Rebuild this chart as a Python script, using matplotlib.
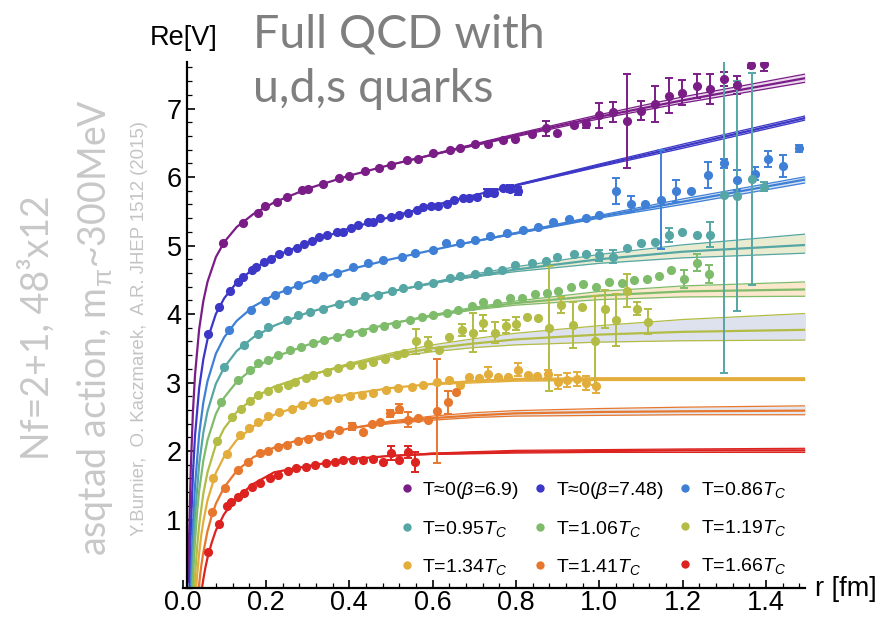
"""
Re[V](r) from lattice QCD (Nf=2+1) - static potential at several temperatures
with fitted curves and uncertainty bands.
"""
import numpy as np
import matplotlib
matplotlib.use('Agg')
import matplotlib.pyplot as plt
from matplotlib.lines import Line2D
from matplotlib.ticker import MultipleLocator, FixedLocator

plt.rcParams['font.family'] = ['Liberation Sans', 'DejaVu Sans']
plt.rcParams['mathtext.fontset'] = 'custom'
plt.rcParams['mathtext.rm'] = 'Liberation Sans'
plt.rcParams['mathtext.it'] = 'Liberation Sans:italic'

# ── Lattice data: r [fm], Re[V], error ───────────────────────────────────────
r_p = [0.098, 0.146, 0.182, 0.198, 0.226, 0.250, 0.286, 0.302, 0.336, 0.376,
       0.400, 0.438, 0.472, 0.500, 0.538, 0.566, 0.602, 0.642, 0.666, 0.702,
       0.734, 0.770, 0.798, 0.838, 0.872, 0.899, 0.940, 0.968, 1.000, 1.034,
       1.066, 1.100, 1.134, 1.168, 1.198, 1.234, 1.266, 1.299, 1.331, 1.364, 1.396]
v_p = [5.03, 5.33, 5.48, 5.58, 5.64, 5.71, 5.81, 5.83, 5.90, 5.98,
       6.02, 6.09, 6.13, 6.18, 6.25, 6.27, 6.35, 6.39, 6.42, 6.48,
       6.48, 6.54, 6.55, 6.63, 6.71, 6.65, 6.76, 6.77, 6.90, 6.95,
       6.82, 6.97, 7.07, 7.19, 7.23, 7.33, 7.28, 7.43, 7.35, 7.64, 7.65]
e_p = [0, 0, 0, 0, 0, 0, 0, 0, 0, 0,
       0, 0, 0, 0, 0, 0, 0, 0, 0, 0,
       0, 0, 0, 0, 0.11, 0, 0, 0.05, 0.18, 0.15,
       0.69, 0.14, 0.26, 0.25, 0.18, 0.18, 0.22, 0.10, 0.13, 0.05, 0.10]

r_b = [0.062, 0.088, 0.113, 0.134, 0.146, 0.166, 0.176, 0.196, 0.212, 0.232,
       0.254, 0.274, 0.292, 0.310, 0.328, 0.346, 0.370, 0.384, 0.404, 0.422,
       0.444, 0.456, 0.474, 0.500, 0.520, 0.542, 0.562, 0.576, 0.596, 0.614,
       0.634, 0.651, 0.672, 0.688, 0.707, 0.730, 0.748, 0.768, 0.786, 0.804]
v_b = [3.71, 4.10, 4.34, 4.47, 4.54, 4.65, 4.69, 4.76, 4.81, 4.88,
       4.92, 4.97, 5.02, 5.07, 5.12, 5.15, 5.20, 5.20, 5.25, 5.30,
       5.35, 5.35, 5.40, 5.42, 5.45, 5.48, 5.52, 5.57, 5.58, 5.58,
       5.61, 5.67, 5.69, 5.69, 5.71, 5.77, 5.77, 5.84, 5.83, 5.80]
e_b = [0, 0, 0, 0, 0, 0, 0, 0, 0, 0,
       0, 0, 0, 0, 0, 0, 0, 0, 0, 0,
       0, 0, 0, 0, 0, 0, 0, 0, 0, 0,
       0, 0, 0, 0, 0, 0.05, 0.05, 0, 0.05, 0.06]

r_lb = [0.112, 0.164, 0.198, 0.222, 0.250, 0.278, 0.318, 0.336, 0.370, 0.410,
        0.446, 0.482, 0.526, 0.558, 0.600, 0.632, 0.666, 0.702, 0.738, 0.778,
        0.816, 0.854, 0.888, 0.928, 0.968, 1.000, 1.040, 1.076, 1.110, 1.148,
        1.184, 1.220, 1.260, 1.300, 1.331, 1.374, 1.406, 1.440, 1.480]
v_lb = [3.77, 4.06, 4.19, 4.28, 4.35, 4.43, 4.51, 4.55, 4.60, 4.68,
        4.74, 4.79, 4.84, 4.89, 4.94, 5.03, 5.03, 5.08, 5.14, 5.19,
        5.23, 5.27, 5.35, 5.39, 5.40, 5.45, 5.79, 5.61, 5.61, 5.67,
        5.80, 5.80, 6.03, 6.20, 5.96, 6.05, 6.26, 6.16, 6.42]
e_lb = [0, 0, 0, 0, 0, 0, 0, 0, 0, 0,
        0, 0, 0, 0, 0, 0, 0, 0, 0, 0,
        0, 0, 0, 0, 0, 0, 0.19, 0.12, 0, 0.72,
        0.16, 0, 0.19, 0.07, 0.15, 0.10, 0.12, 0.16, 0.05]

r_t = [0.100, 0.148, 0.182, 0.206, 0.250, 0.278, 0.306, 0.338, 0.376, 0.408,
       0.438, 0.470, 0.502, 0.530, 0.566, 0.602, 0.642, 0.666, 0.702, 0.734,
       0.766, 0.798, 0.838, 0.872, 0.899, 0.940, 0.968, 1.000, 1.034, 1.066,
       1.100, 1.134, 1.168, 1.198, 1.234, 1.266, 1.299, 1.331, 1.366, 1.396]
v_t = [3.23, 3.55, 3.71, 3.81, 3.91, 3.99, 4.03, 4.08, 4.15, 4.19,
       4.26, 4.28, 4.33, 4.38, 4.42, 4.46, 4.53, 4.55, 4.59, 4.63,
       4.65, 4.72, 4.74, 4.78, 4.84, 4.88, 4.88, 4.86, 4.84, 4.97,
       5.04, 5.05, 5.15, 5.20, 5.16, 5.16, 5.74, 5.72, 5.97, 5.86]
e_t = [0, 0, 0, 0, 0, 0, 0, 0, 0, 0,
       0, 0, 0, 0, 0, 0, 0, 0, 0, 0,
       0, 0, 0, 0, 0, 0, 0, 0.08, 0.10, 0,
       0, 0, 0.10, 0, 0, 0.18, 2.60, 1.68, 1.55, 0.07]

r_g = [0.092, 0.134, 0.162, 0.182, 0.206, 0.228, 0.258, 0.284, 0.314, 0.340,
       0.370, 0.400, 0.430, 0.456, 0.484, 0.512, 0.546, 0.574, 0.602, 0.634,
       0.662, 0.694, 0.722, 0.754, 0.786, 0.814, 0.846, 0.874, 0.902, 0.932,
       0.962, 0.992, 1.024, 1.054, 1.084, 1.114, 1.144, 1.172, 1.204, 1.234, 1.263]
v_g = [2.71, 3.04, 3.19, 3.28, 3.33, 3.40, 3.47, 3.52, 3.57, 3.62,
       3.67, 3.72, 3.74, 3.79, 3.82, 3.86, 3.91, 3.95, 3.99, 4.02,
       4.06, 4.12, 4.18, 4.16, 4.24, 4.23, 4.29, 4.30, 4.33, 4.39,
       4.44, 4.40, 4.47, 4.45, 4.50, 4.51, 4.55, 4.64, 4.51, 4.75, 4.59]
e_g = [0, 0, 0, 0, 0, 0, 0, 0, 0, 0,
       0, 0, 0, 0, 0, 0, 0, 0, 0, 0,
       0, 0, 0, 0, 0, 0, 0, 0, 0, 0,
       0, 0, 0, 0, 0, 0, 0, 0, 0.13, 0.12, 0.13]

r_o = [0.082, 0.118, 0.140, 0.162, 0.182, 0.204, 0.228, 0.254, 0.270, 0.296,
       0.314, 0.346, 0.374, 0.402, 0.430, 0.456, 0.486, 0.514, 0.532, 0.560,
       0.590, 0.616, 0.640, 0.670, 0.698, 0.720, 0.750, 0.776, 0.800, 0.826,
       0.852, 0.880, 0.908, 0.936, 0.958, 0.990, 1.014, 1.040, 1.066, 1.091, 1.118]
v_o = [2.14, 2.50, 2.62, 2.73, 2.82, 2.87, 2.92, 2.96, 3.01, 3.06,
       3.11, 3.16, 3.21, 3.26, 3.26, 3.30, 3.34, 3.40, 3.43, 3.60,
       3.56, 3.47, 3.67, 3.77, 3.73, 3.87, 3.73, 3.82, 3.86, 3.96,
       3.94, 3.79, 4.13, 3.84, 4.11, 3.61, 4.07, 3.91, 4.34, 4.08, 3.89]
e_o = [0, 0, 0, 0, 0, 0, 0, 0, 0, 0,
       0, 0, 0, 0, 0, 0, 0, 0, 0, 0.18,
       0.10, 0, 0, 0.09, 0.29, 0.12, 0.15, 0.10, 0.09, 0,
       0, 0.91, 0.12, 0.34, 0, 0.65, 0.28, 0.38, 0.24, 0.09, 0.18]

r_y = [0.072, 0.106, 0.138, 0.160, 0.182, 0.206, 0.232, 0.262, 0.286, 0.314,
       0.346, 0.374, 0.402, 0.430, 0.458, 0.488, 0.518, 0.550, 0.578, 0.610,
       0.640, 0.666, 0.688, 0.712, 0.734, 0.758, 0.780, 0.806, 0.830, 0.850,
       0.876, 0.900, 0.922, 0.946, 0.968, 0.992]
v_y = [1.60, 1.96, 2.23, 2.33, 2.43, 2.51, 2.57, 2.62, 2.67, 2.71,
       2.74, 2.77, 2.80, 2.82, 2.85, 2.89, 2.92, 2.94, 2.96, 3.01,
       3.04, 2.96, 3.08, 3.06, 3.13, 3.08, 3.08, 3.19, 3.11, 3.09,
       3.12, 3.01, 3.04, 3.05, 2.99, 2.95]
e_y = [0, 0, 0, 0, 0, 0, 0, 0, 0, 0,
       0, 0, 0, 0, 0, 0, 0, 0, 0, 0,
       0, 0, 0, 0, 0.10, 0, 0, 0.10, 0, 0,
       0.06, 0.10, 0.10, 0.10, 0.10, 0.10]

r_or = [0.070, 0.102, 0.134, 0.158, 0.186, 0.206, 0.228, 0.250, 0.278, 0.302,
        0.328, 0.352, 0.376, 0.406, 0.432, 0.454, 0.474, 0.498, 0.520, 0.542,
        0.566, 0.590, 0.611, 0.638, 0.657]
v_or = [1.11, 1.46, 1.72, 1.84, 1.97, 2.00, 2.06, 2.09, 2.14, 2.17,
        2.22, 2.25, 2.30, 2.36, 2.28, 2.39, 2.43, 2.55, 2.62, 2.46,
        2.48, 2.45, 2.58, 2.71, 2.86]
e_or = [0, 0, 0, 0, 0, 0, 0, 0, 0, 0,
        0, 0, 0, 0.05, 0, 0, 0, 0.05, 0.07, 0.11,
        0, 0, 0.76, 0.17, 0]

r_r = [0.062, 0.088, 0.106, 0.116, 0.132, 0.148, 0.166, 0.186, 0.210, 0.230,
       0.252, 0.272, 0.296, 0.318, 0.344, 0.366, 0.386, 0.410, 0.432, 0.456,
       0.480, 0.500, 0.520, 0.540, 0.559]
v_r = [0.53, 0.94, 1.19, 1.26, 1.33, 1.39, 1.47, 1.53, 1.60, 1.65,
       1.71, 1.75, 1.76, 1.80, 1.83, 1.84, 1.87, 1.87, 1.87, 1.89,
       1.84, 1.97, 1.87, 1.99, 1.84]
e_r = [0, 0, 0, 0, 0, 0, 0, 0, 0, 0,
       0, 0, 0, 0, 0, 0, 0, 0, 0, 0,
       0, 0.10, 0, 0.09, 0.15]

# ── Fit curves (central) ─────────────────────────────────────────────────────
fr_p = [0.014, 0.016, 0.02, 0.025, 0.03, 0.04, 0.05, 0.06, 0.08, 0.1, 0.13, 0.17, 0.22, 0.3, 0.4, 0.5, 0.65, 0.8, 1.0, 1.2, 1.5]
fv_p = [0.07, 0.78, 1.77, 2.57, 3.11, 3.78, 4.19, 4.47, 4.83, 5.05, 5.27, 5.46, 5.63, 5.83, 6.02, 6.18, 6.40, 6.61, 6.88, 7.12, 7.45]
fr_b = [0.016, 0.018, 0.02, 0.025, 0.03, 0.04, 0.05, 0.06, 0.08, 0.1, 0.13, 0.17, 0.22, 0.3, 0.4, 0.5, 0.65, 0.8, 1.0, 1.2, 1.5]
fv_b = [-0.20, 0.38, 0.84, 1.66, 2.22, 2.92, 3.34, 3.63, 4.00, 4.23, 4.46, 4.66, 4.84, 5.04, 5.25, 5.42, 5.66, 5.88, 6.17, 6.45, 6.87]
fr_lb = [0.02, 0.022, 0.025, 0.03, 0.04, 0.05, 0.06, 0.08, 0.1, 0.13, 0.17, 0.22, 0.3, 0.4, 0.5, 0.65, 0.8, 1.0, 1.2, 1.5]
fv_lb = [-0.01, 0.40, 0.89, 1.49, 2.25, 2.71, 3.02, 3.42, 3.66, 3.90, 4.11, 4.28, 4.47, 4.65, 4.80, 5.00, 5.18, 5.42, 5.64, 5.97]
fr_t = [0.022, 0.025, 0.03, 0.04, 0.05, 0.06, 0.08, 0.1, 0.13, 0.17, 0.22, 0.3, 0.4, 0.5, 0.65, 0.8, 1.0, 1.2, 1.5]
fv_t = [-0.05, 0.45, 1.05, 1.81, 2.27, 2.58, 2.98, 3.22, 3.46, 3.66, 3.83, 4.02, 4.19, 4.33, 4.51, 4.65, 4.80, 4.91, 5.01]
fr_g = [0.024, 0.027, 0.03, 0.035, 0.04, 0.05, 0.06, 0.08, 0.1, 0.13, 0.17, 0.22, 0.3, 0.4, 0.5, 0.6, 0.7, 0.8, 1.0, 1.2, 1.5]
fv_g = [-0.05, 0.36, 0.68, 1.10, 1.42, 1.86, 2.16, 2.54, 2.78, 3.01, 3.21, 3.37, 3.55, 3.72, 3.86, 3.98, 4.08, 4.16, 4.27, 4.33, 4.36]
fr_o = [0.028, 0.031, 0.035, 0.04, 0.05, 0.06, 0.08, 0.1, 0.13, 0.17, 0.22, 0.3, 0.4, 0.5, 0.6, 0.7, 0.8, 1.0, 1.2, 1.5]
fv_o = [-0.06, 0.26, 0.59, 0.92, 1.38, 1.69, 2.09, 2.33, 2.57, 2.77, 2.94, 3.10, 3.26, 3.40, 3.50, 3.57, 3.63, 3.70, 3.74, 3.77]
fr_y = [0.032, 0.035, 0.04, 0.045, 0.05, 0.06, 0.08, 0.1, 0.13, 0.17, 0.22, 0.3, 0.4, 0.5, 0.6, 0.7, 0.8, 1.0, 1.2, 1.5]
fv_y = [-0.06, 0.18, 0.51, 0.77, 0.97, 1.28, 1.68, 1.92, 2.16, 2.36, 2.53, 2.70, 2.83, 2.92, 2.98, 3.02, 3.04, 3.05, 3.05, 3.05]
fr_or = [0.038, 0.042, 0.045, 0.05, 0.06, 0.07, 0.08, 0.1, 0.13, 0.17, 0.22, 0.3, 0.4, 0.5, 0.6, 0.7, 0.8, 1.0, 1.2, 1.5]
fv_or = [-0.06, 0.17, 0.32, 0.52, 0.83, 1.05, 1.23, 1.47, 1.71, 1.91, 2.05, 2.20, 2.33, 2.42, 2.48, 2.52, 2.55, 2.57, 2.58, 2.59]
fr_r = [0.047, 0.05, 0.055, 0.06, 0.07, 0.08, 0.1, 0.13, 0.17, 0.22, 0.3, 0.4, 0.5, 0.6, 0.8, 1.0, 1.2, 1.5]
fv_r = [0.01, 0.13, 0.30, 0.44, 0.66, 0.84, 1.08, 1.32, 1.52, 1.69, 1.78, 1.88, 1.93, 1.96, 1.99, 2.00, 2.01, 2.01]

# ── Fit uncertainty bands (r, lower, upper) ──────────────────────────────────
br_p = [0.5, 0.65, 0.8, 1.0, 1.2, 1.5]
bl_p = [6.18, 6.39, 6.59, 6.85, 7.08, 7.39]
bh_p = [6.18, 6.41, 6.63, 6.91, 7.17, 7.51]
br_b = [0.8, 1.0, 1.2, 1.5]
bl_b = [5.87, 6.15, 6.42, 6.84]
bh_b = [5.89, 6.19, 6.48, 6.90]
br_lb = [0.65, 0.8, 1.0, 1.2, 1.5]
bl_lb = [5.00, 5.17, 5.40, 5.60, 5.92]
bh_lb = [5.00, 5.19, 5.44, 5.68, 6.01]
br_t = [0.5, 0.65, 0.8, 1.0, 1.2, 1.5]
bl_t = [4.33, 4.50, 4.62, 4.74, 4.82, 4.89]
bh_t = [4.33, 4.53, 4.69, 4.87, 5.01, 5.17]
br_g = [0.5, 0.6, 0.7, 0.8, 1.0, 1.2, 1.5]
bl_g = [3.86, 3.97, 4.06, 4.13, 4.21, 4.25, 4.26]
bh_g = [3.86, 3.99, 4.10, 4.19, 4.33, 4.41, 4.47]
br_o = [0.3, 0.4, 0.5, 0.6, 0.7, 0.8, 1.0, 1.2, 1.5]
bl_o = [3.10, 3.25, 3.37, 3.45, 3.51, 3.55, 3.59, 3.61, 3.62]
bh_o = [3.10, 3.28, 3.43, 3.55, 3.64, 3.72, 3.83, 3.92, 4.01]
br_y = [0.6, 0.8, 1.0, 1.5]
bl_y = [2.97, 3.02, 3.03, 3.03]
bh_y = [2.99, 3.06, 3.07, 3.07]
br_or = [0.4, 0.5, 0.6, 0.7, 0.8, 1.0, 1.2, 1.5]
bl_or = [2.33, 2.40, 2.45, 2.49, 2.51, 2.52, 2.53, 2.53]
bh_or = [2.33, 2.44, 2.51, 2.56, 2.59, 2.62, 2.64, 2.66]
br_r = [0.4, 0.5, 0.6, 0.8, 1.0, 1.2, 1.5]
bl_r = [1.88, 1.93, 1.95, 1.97, 1.98, 1.98, 1.98]
bh_r = [1.88, 1.93, 1.97, 2.01, 2.02, 2.03, 2.04]

labels = ['T≈0($\\beta$=6.9)', 'T≈0($\\beta$=7.48)', 'T=0.86$T_C$',
          'T=0.95$T_C$', 'T=1.06$T_C$', 'T=1.19$T_C$',
          'T=1.34$T_C$', 'T=1.41$T_C$', 'T=1.66$T_C$']
colors = ['#7a1d87', '#3c37c6', '#3f80d6', '#55a6a4', '#7ebc6b',
          '#b3bc44', '#e3ad3b', '#e8772e', '#dc2320']
fills = ['#ecd9ee', '#dcdaf4', '#d5e3f4', '#eaecd2', '#fbe7cb',
         '#dde2ee', '#f6e4c3', '#e3e7ef', '#f5cac8']

series = [
    (r_p, v_p, e_p, fr_p, fv_p, br_p, bl_p, bh_p),
    (r_b, v_b, e_b, fr_b, fv_b, br_b, bl_b, bh_b),
    (r_lb, v_lb, e_lb, fr_lb, fv_lb, br_lb, bl_lb, bh_lb),
    (r_t, v_t, e_t, fr_t, fv_t, br_t, bl_t, bh_t),
    (r_g, v_g, e_g, fr_g, fv_g, br_g, bl_g, bh_g),
    (r_o, v_o, e_o, fr_o, fv_o, br_o, bl_o, bh_o),
    (r_y, v_y, e_y, fr_y, fv_y, br_y, bl_y, bh_y),
    (r_or, v_or, e_or, fr_or, fv_or, br_or, bl_or, bh_or),
    (r_r, v_r, e_r, fr_r, fv_r, br_r, bl_r, bh_r),
]

# ── Figure ───────────────────────────────────────────────────────────────────
W, H = 886, 620
fig = plt.figure(figsize=(W / 100, H / 100), dpi=100)
ax = fig.add_axes([182.5 / W, 1 - 588 / H, 622.5 / W, 526 / H])
ax.set_xlim(0, 1.494)
ax.set_ylim(0, 7.68)

# bands + fit curves
for (r, v, e, fr, fv, br, bl, bh), c, fc in zip(series, colors, fills):
    ax.fill_between(br, bl, bh, color=fc, lw=0, zorder=1)
    ax.plot(br, bl, color=c, lw=0.9, zorder=2)
    ax.plot(br, bh, color=c, lw=0.9, zorder=2)
    ax.plot(fr, fv, color=c, lw=1.6, zorder=2, solid_capstyle='butt')

# data points with error bars
handles = []
for (r, v, e, *_), c, lab in zip(series, colors, labels):
    r, v, e = np.array(r), np.array(v), np.array(e)
    m = e > 0
    ax.errorbar(r[m], v[m], yerr=e[m], fmt='none', ecolor=c, elinewidth=1.4,
                capsize=3, capthick=1.4, zorder=3)
    ax.plot(r, v, 'o', ms=6.6, color=c, mec='none', zorder=4)
    handles.append(Line2D([], [], ls='none', marker='o', ms=6, color=c,
                          mec='none', label=lab))

# axes styling (Mathematica-like)
for s in ['top', 'right']:
    ax.spines[s].set_visible(False)
ax.spines['left'].set_position(('data', 0.011))
ax.spines['left'].set_linewidth(1.6)
ax.spines['bottom'].set_linewidth(1.6)
ax.xaxis.set_major_locator(FixedLocator([0, 0.2, 0.4, 0.6, 0.8, 1.0, 1.2, 1.4]))
ax.xaxis.set_minor_locator(MultipleLocator(0.04))
ax.set_xticklabels(['0.0', '0.2', '0.4', '0.6', '0.8', '1.0', '1.2', '1.4'])
ax.yaxis.set_major_locator(FixedLocator([1, 2, 3, 4, 5, 6, 7]))
ax.yaxis.set_minor_locator(MultipleLocator(0.2))
ax.tick_params(which='major', direction='in', length=6, width=1.2,
               labelsize=19.5, pad=4)
ax.tick_params(axis='x', which='major', pad=1.5)
ax.tick_params(which='minor', direction='in', length=3.5, width=0.9)

# legend: reorder so matplotlib's column-major fill gives row-wise order
order = [0, 3, 6, 1, 4, 7, 2, 5, 8]
ax.legend([handles[i] for i in order], [labels[i] for i in order], ncol=3,
          loc='lower left', bbox_to_anchor=(0.335, 0.003), frameon=False,
          fontsize=14, handlelength=0.6, handletextpad=0.5,
          columnspacing=0.8, labelspacing=0.93, borderpad=0)

# axis labels
fig.text(150 / W, 1 - 45 / H, 'Re[V]', fontsize=19.5, va='baseline')
fig.text(815 / W, 1 - 596 / H, 'r [fm]', fontsize=19.5, va='baseline')

# title and annotations
fig.text(253 / W, 1 - 48 / H, 'Full QCD with', fontsize=33.5, color='#7f7f7f',
         family='Lato', va='baseline')
fig.text(253 / W, 1 - 102 / H, 'u,d,s quarks', fontsize=33.5, color='#7f7f7f',
         family='Lato', va='baseline')
fig.text(37 / W, 1 - 327.5 / H, 'Nf=2+1, 48³x12', fontsize=27, color='#c8c8c8',
         family='Lato', rotation=90, ha='center', va='center')
fig.text(95 / W, 1 - 327 / H, 'asqtad action, m$_{\\mathrm{\\pi}}$~300MeV',
         fontsize=27, color='#c8c8c8', family='Lato', rotation=90,
         ha='center', va='center')
fig.text(140 / W, 1 - 329 / H, 'Y.Burnier,  O. Kaczmarek,  A.R. JHEP 1512 (2015)',
         fontsize=13.4, color='#c4c4c4', rotation=90, ha='center', va='center')

fig.savefig('out.png', dpi=100)
